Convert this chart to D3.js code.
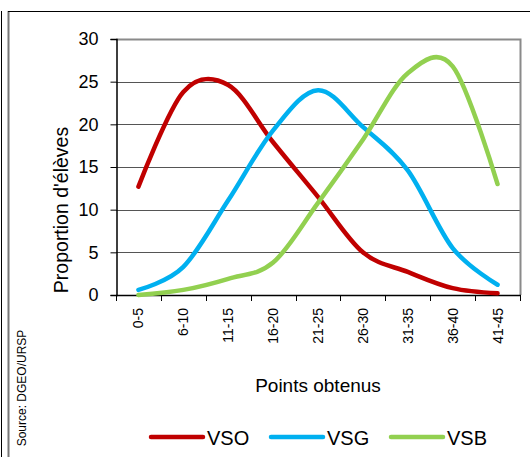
<!DOCTYPE html>
<html>
<head>
<meta charset="utf-8">
<script src="https://cdn.jsdelivr.net/npm/d3@7/dist/d3.min.js"></script>
<style>
  html, body { margin: 0; padding: 0; background: #fff; }
  svg { display: block; font-family: "Liberation Sans", Arial, sans-serif; }
</style>
</head>
<body>
<svg id="chart" width="530" height="457"></svg>
<script>
// Score classes (points obtained)
const categories = ["0-5", "6-10", "11-15", "16-20", "21-25", "26-30", "31-35", "36-40", "41-45"];
// Share of pupils (%) per class, by track
const vso = [12.7, 23.8, 24.6, 17.9, 11.5, 5.0, 2.7, 0.8, 0.2];
const vsg = [0.6, 3.3, 11.1, 19.3, 24.0, 19.7, 14.6, 5.5, 1.2];
const vsb = [0.0, 0.6, 1.9, 3.8, 10.8, 18.2, 26.0, 26.8, 13.0];
const yTicks = [0, 5, 10, 15, 20, 25, 30];

const series = [
  { name: "VSO", values: vso, color: "#c00000" },
  { name: "VSG", values: vsg, color: "#00b0f0" },
  { name: "VSB", values: vsb, color: "#92d050" }
];

const svg = d3.select("#chart");
const plot = { left: 116, right: 520, top: 39, bottom: 295 };

const x = d3.scaleBand().domain(categories).range([plot.left, plot.right]);
const y = d3.scaleLinear().domain([0, 30]).range([plot.bottom, plot.top]);

// Outer frames
svg.append("line").attr("x1", 1.5).attr("x2", 1.5).attr("y1", 11).attr("y2", 457)
  .attr("stroke", "#000").attr("stroke-width", 1);
svg.append("line").attr("x1", 8.5).attr("x2", 8.5).attr("y1", 11).attr("y2", 457)
  .attr("stroke", "#777").attr("stroke-width", 2);
svg.append("line").attr("x1", 8).attr("x2", 530).attr("y1", 11.5).attr("y2", 11.5)
  .attr("stroke", "#000").attr("stroke-width", 1);

// Gridlines
svg.append("g").selectAll("line").data(yTicks.filter(d => d > 0 && d < 30)).join("line")
  .attr("x1", plot.left).attr("x2", plot.right)
  .attr("y1", d => Math.round(y(d)) + 0.5).attr("y2", d => Math.round(y(d)) + 0.5)
  .attr("stroke", "#555").attr("stroke-width", 1.2);

// Plot area border (top and right)
svg.append("path")
  .attr("d", `M${plot.left},${plot.top + 0.5}H${plot.right + 0.5}V${plot.bottom}`)
  .attr("fill", "none").attr("stroke", "#8a8a8a").attr("stroke-width", 2);

// Y axis
const yAxis = svg.append("g").attr("transform", `translate(${plot.left + 0.5},0)`)
  .call(d3.axisLeft(y).tickValues(yTicks).tickSize(6).tickPadding(12).tickFormat(d3.format("d")));
yAxis.select(".domain").attr("stroke", "#000").attr("stroke-width", 1.5);
yAxis.selectAll(".tick line").attr("stroke", "#000");
yAxis.selectAll(".tick text").attr("font-size", 18).attr("fill", "#000")
  .attr("font-family", "Liberation Sans, Arial, sans-serif");

// X axis: ticks at band boundaries
const xBounds = categories.map(c => x(c)).concat([plot.right]);
svg.append("line").attr("x1", plot.left).attr("x2", plot.right + 1)
  .attr("y1", plot.bottom + 0.5).attr("y2", plot.bottom + 0.5)
  .attr("stroke", "#000").attr("stroke-width", 1.5);
svg.append("g").selectAll("line").data(xBounds).join("line")
  .attr("x1", d => Math.round(d) + 0.5).attr("x2", d => Math.round(d) + 0.5)
  .attr("y1", plot.bottom).attr("y2", plot.bottom + 6)
  .attr("stroke", "#000").attr("stroke-width", 1);
svg.append("g").selectAll("text").data(categories).join("text")
  .attr("transform", d => `translate(${x(d) + x.bandwidth() / 2 + 5},${plot.bottom + 13}) rotate(-90)`)
  .attr("text-anchor", "end")
  .attr("font-size", 14).attr("fill", "#000")
  .text(d => d);

// Axis titles
svg.append("text")
  .attr("transform", `translate(68,210) rotate(-90)`)
  .attr("text-anchor", "middle").attr("font-size", 19.5).attr("fill", "#000")
  .text("Proportion d'élèves");
svg.append("text")
  .attr("x", 318).attr("y", 392)
  .attr("text-anchor", "middle").attr("font-size", 19).attr("fill", "#000")
  .text("Points obtenus");

// Source note
svg.append("text")
  .attr("transform", `translate(26,388) rotate(-90)`)
  .attr("text-anchor", "middle").attr("font-size", 12).attr("fill", "#000")
  .text("Source: DGEO/URSP");

// Series lines
const line = d3.line()
  .x((d, i) => x(categories[i]) + x.bandwidth() / 2)
  .y(d => y(d))
  .curve(d3.curveCardinal.tension(0));

svg.append("g").selectAll("path").data(series).join("path")
  .attr("d", s => line(s.values))
  .attr("fill", "none")
  .attr("stroke", s => s.color)
  .attr("stroke-width", 4.5)
  .attr("stroke-linecap", "round")
  .attr("stroke-linejoin", "round");

// Legend
const legendX = [150, 270, 390];
const legend = svg.append("g").selectAll("g").data(series).join("g")
  .attr("transform", (s, i) => `translate(${legendX[i]},437)`);
legend.append("line").attr("x1", 1).attr("x2", 53)
  .attr("stroke", s => s.color).attr("stroke-width", 4.5).attr("stroke-linecap", "round");
legend.append("text").attr("x", 57).attr("y", 7.5)
  .attr("font-size", 20).attr("fill", "#000")
  .text(s => s.name);
</script>
</body>
</html>
